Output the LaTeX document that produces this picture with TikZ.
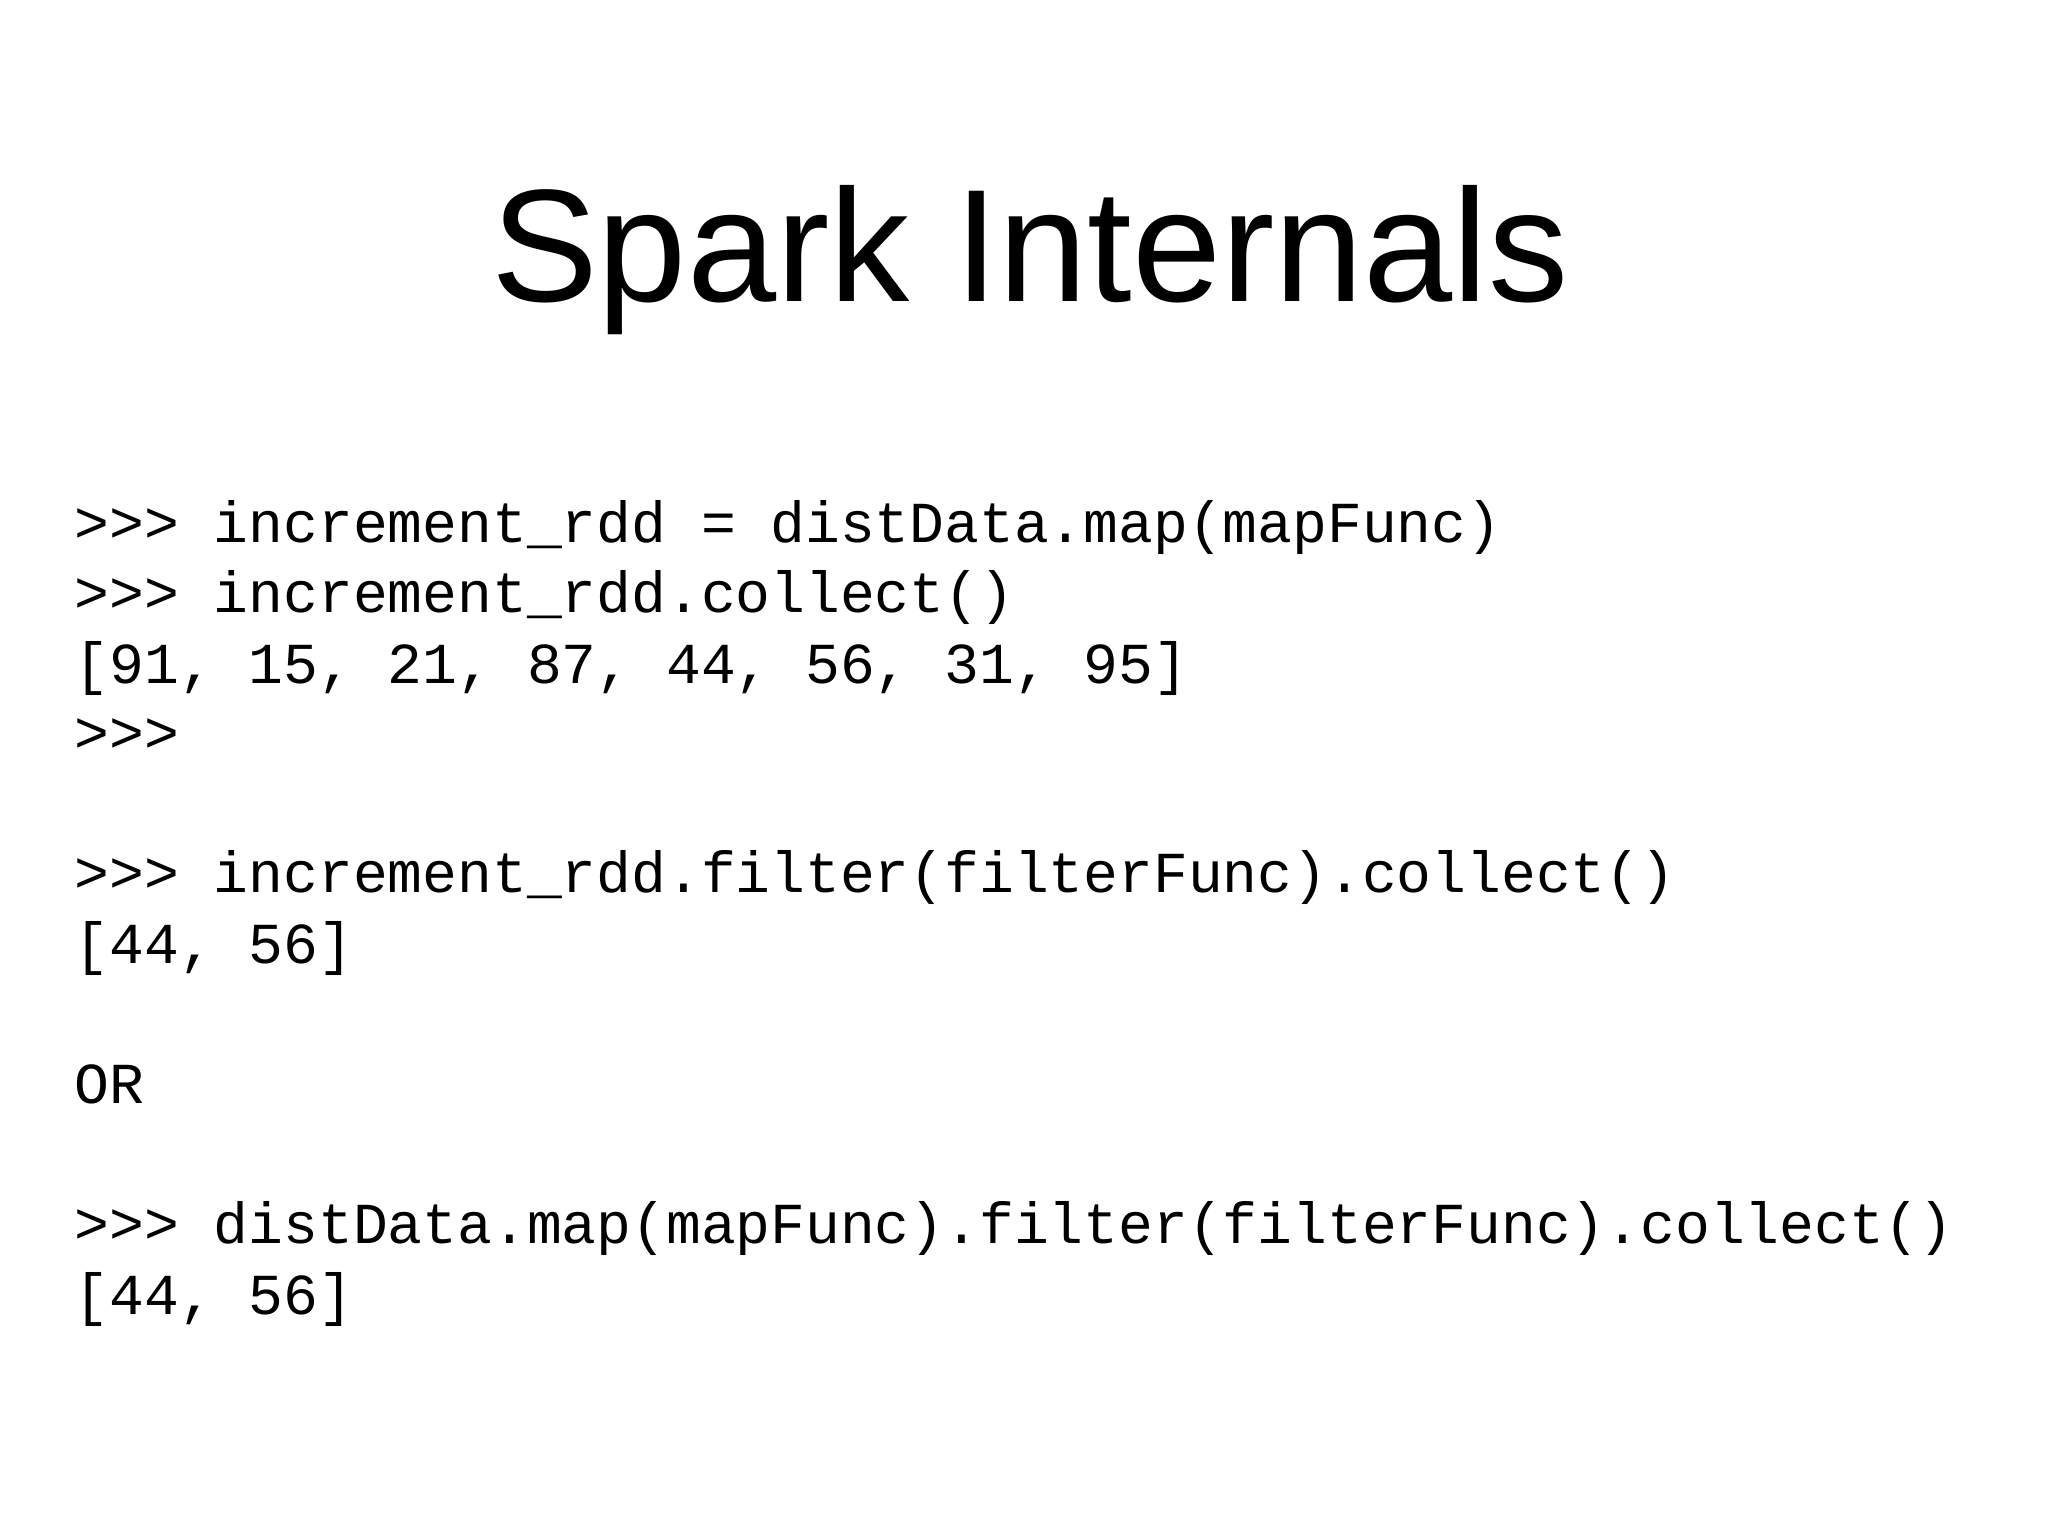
\documentclass[tikz,border=0pt]{standalone}
\usepackage{fontspec}
\setmainfont{Liberation Sans}
\newfontfamily\codefont{Liberation Mono}
\begin{document}
\begin{tikzpicture}
\useasboundingbox (0,0) rectangle (20.48,15.36);
\tikzset{code/.style={anchor=base west,inner sep=0pt,font=\codefont\fontsize{16.5pt}{18pt}\selectfont}}
\node[anchor=base,inner sep=0pt,font=\fontsize{45.6pt}{50pt}\selectfont] (title) at (10.3,12.34) {Spark Internals};
\node[code] (l1) at (0.74,9.93) {>>> increment\_rdd = distData.map(mapFunc)};
\node[code] (l2) at (0.74,9.23) {>>> increment\_rdd.collect()};
\node[code] (l3) at (0.74,8.52) {[91, 15, 21, 87, 44, 56, 31, 95]};
\node[code] (l4) at (0.74,7.83) {>>>};
\node[code] (l5) at (0.74,6.43) {>>> increment\_rdd.filter(filterFunc).collect()};
\node[code] (l6) at (0.74,5.72) {[44, 56]};
\node[code] (l7) at (0.74,4.32) {OR};
\node[code] (l8) at (0.74,2.92) {>>> distData.map(mapFunc).filter(filterFunc).collect()};
\node[code] (l9) at (0.74,2.21) {[44, 56]};
\end{tikzpicture}
\end{document}
